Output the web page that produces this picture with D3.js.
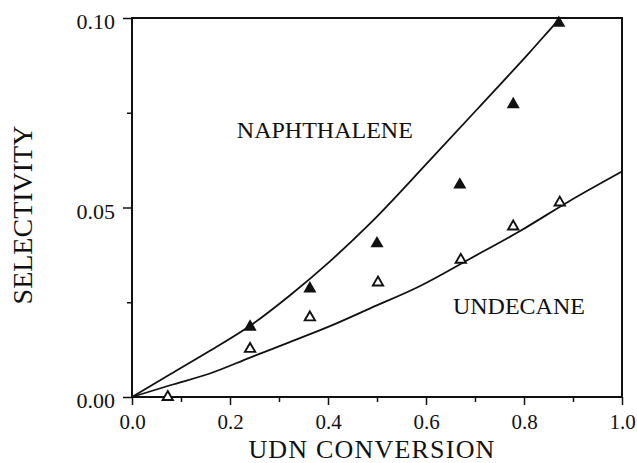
<!DOCTYPE html>
<html>
<head>
<meta charset="utf-8">
<script src="https://cdn.jsdelivr.net/npm/d3@7"></script>
<style>
  html, body { margin: 0; padding: 0; background: #fff; }
  svg { display: block; }
  text { font-family: "Liberation Serif", "Times New Roman", serif; fill: #111; }
</style>
</head>
<body>
<svg id="chart" width="637" height="463"></svg>
<script>
// Measured selectivities vs. UDN conversion
const naphConv = [0.241, 0.363, 0.500, 0.669, 0.778, 0.871];
const naphSel  = [0.0185, 0.0286, 0.0405, 0.0560, 0.0772, 0.0987];
const undConv  = [0.073, 0.241, 0.363, 0.502, 0.671, 0.778, 0.873];
const undSel   = [0.0000, 0.0127, 0.0210, 0.0302, 0.0362, 0.0450, 0.0513];

// Model curves
const naphCurveX = [0, 0.078, 0.159, 0.241, 0.322, 0.404, 0.486, 0.608, 0.710, 0.812, 0.867, 0.874];
const naphCurveY = [0, 0.0060, 0.0122, 0.0188, 0.0268, 0.0358, 0.0458, 0.0625, 0.0767, 0.0910, 0.0990, 0.1000];
const undCurveX  = [0, 0.078, 0.159, 0.241, 0.322, 0.404, 0.486, 0.588, 0.690, 0.792, 0.894, 1.000];
const undCurveY  = [0, 0.0031, 0.0062, 0.0104, 0.0145, 0.0187, 0.0234, 0.0293, 0.0365, 0.0438, 0.0518, 0.0595];

// Axis ticks
const xMajor = [0, 0.2, 0.4, 0.6, 0.8, 1.0];
const xMinor = [0.1, 0.3, 0.5, 0.7, 0.9];
const xLabels = ["0.0", "0.2", "0.4", "0.6", "0.8", "1.0"];
const yMajor = [0, 0.05, 0.10];
const yMinor = [0.025, 0.075];
const yLabels = ["0.00", "0.05", "0.10"];

// Curve labels
const curveLabels = [
  { text: "NAPHTHALENE", x: 0.214, y: 0.0683 },
  { text: "UNDECANE", x: 0.655, y: 0.0219 }
];

const svg = d3.select("#chart");
const x = d3.scaleLinear().domain([0, 1]).range([132, 622]);
const y = d3.scaleLinear().domain([0, 0.10]).range([397, 18]);

// Minor ticks
svg.append("g").attr("transform", `translate(0,${y(0)})`)
  .call(d3.axisBottom(x).tickValues(xMinor).tickSize(5).tickFormat(""))
  .call(g => g.select(".domain").remove())
  .selectAll("line").attr("stroke", "#111").attr("stroke-width", 1.5);
svg.append("g").attr("transform", `translate(${x(0)},0)`)
  .call(d3.axisLeft(y).tickValues(yMinor).tickSize(5).tickFormat(""))
  .call(g => g.select(".domain").remove())
  .selectAll("line").attr("stroke", "#111").attr("stroke-width", 1.5);

// Major ticks and labels
const xAxis = svg.append("g").attr("transform", `translate(0,${y(0)})`)
  .call(d3.axisBottom(x).tickValues(xMajor).tickSize(8).tickPadding(9)
    .tickFormat((d, i) => xLabels[i]));
xAxis.select(".domain").remove();
xAxis.selectAll("line").attr("stroke", "#111").attr("stroke-width", 1.5);
xAxis.selectAll("text").attr("font-size", 21).attr("font-family", "Liberation Serif").attr("fill", "#111");

const yAxis = svg.append("g").attr("transform", `translate(${x(0)},0)`)
  .call(d3.axisLeft(y).tickValues(yMajor).tickSize(9).tickPadding(8)
    .tickFormat((d, i) => yLabels[i]));
yAxis.select(".domain").remove();
yAxis.selectAll("line").attr("stroke", "#111").attr("stroke-width", 1.5);
yAxis.selectAll("text").attr("font-size", 22).attr("font-family", "Liberation Serif")
  .attr("fill", "#111").attr("dy", "0.48em");

// Plot frame
svg.append("rect")
  .attr("x", x(0)).attr("y", y(0.10))
  .attr("width", x(1) - x(0)).attr("height", y(0) - y(0.10))
  .attr("fill", "none").attr("stroke", "#111").attr("stroke-width", 2);

// Curves
const line = d3.line()
  .x(d => x(d[0])).y(d => y(d[1]))
  .curve(d3.curveMonotoneX);
svg.append("path")
  .attr("d", line(naphCurveX.map((v, i) => [v, naphCurveY[i]])))
  .attr("fill", "none").attr("stroke", "#111").attr("stroke-width", 1.8);
svg.append("path")
  .attr("d", line(undCurveX.map((v, i) => [v, undCurveY[i]])))
  .attr("fill", "none").attr("stroke", "#111").attr("stroke-width", 1.8);

// Data markers
const filledTri = d3.symbol().type(d3.symbolTriangle).size(74);
const openTri = d3.symbol().type(d3.symbolTriangle).size(46);
svg.append("g").selectAll("path")
  .data(naphConv.map((v, i) => [v, naphSel[i]]))
  .join("path")
  .attr("d", filledTri)
  .attr("transform", d => `translate(${x(d[0])},${y(d[1])})`)
  .attr("fill", "#111");
svg.append("g").selectAll("path")
  .data(undConv.map((v, i) => [v, undSel[i]]))
  .join("path")
  .attr("d", openTri)
  .attr("transform", d => `translate(${x(d[0])},${y(d[1])})`)
  .attr("fill", "#fff").attr("stroke", "#111").attr("stroke-width", 1.9);

// Curve labels
svg.append("g").selectAll("text")
  .data(curveLabels)
  .join("text")
  .attr("x", d => x(d.x)).attr("y", d => y(d.y))
  .attr("font-size", 24)
  .text(d => d.text);

// Axis titles
svg.append("text")
  .attr("x", 372).attr("y", 458)
  .attr("text-anchor", "middle").attr("font-size", 26)
  .attr("letter-spacing", 1.2)
  .text("UDN CONVERSION");
svg.append("text")
  .attr("transform", "translate(32,215) rotate(-90)")
  .attr("text-anchor", "middle").attr("font-size", 28)
  .text("SELECTIVITY");
</script>
</body>
</html>
